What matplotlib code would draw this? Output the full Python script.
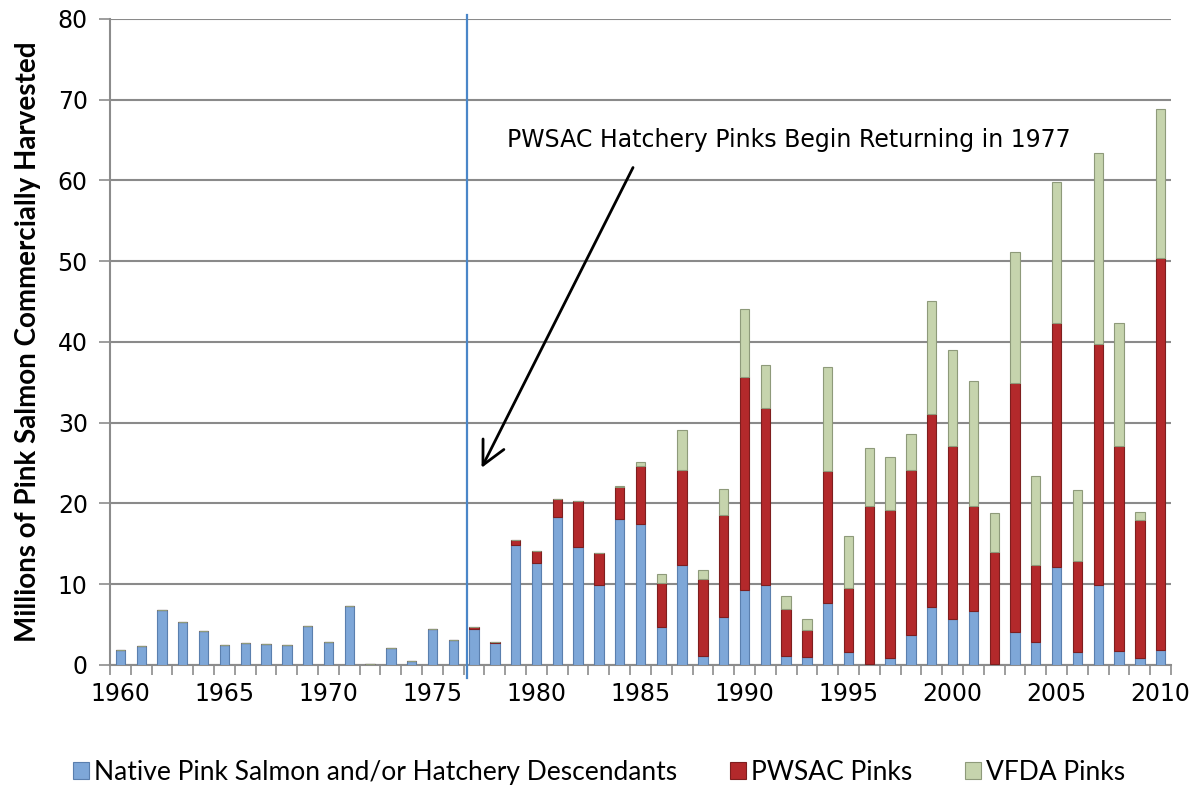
import numpy as np
import matplotlib
matplotlib.use('Agg')
from matplotlib import pyplot as plt

# harvest by year, millions of fish
years = np.arange(1960, 2011)
native = [1.9, 2.4, 6.85, 5.3, 4.2, 2.45, 2.75, 2.6, 2.5, 4.8,
          2.85, 7.35, 0.1, 2.1, 0.45, 4.5, 3.1, 4.5, 2.75, 14.9,
          12.6, 18.3, 14.6, 9.9, 18.1, 17.5, 4.65, 12.35, 1.15, 5.9,
          9.25, 9.9, 1.1, 1.0, 7.7, 1.65, 0.1, 0.8, 3.75, 7.2,
          5.75, 6.7, 0.1, 4.1, 2.9, 12.1, 1.65, 9.95, 1.75, 0.8,
          1.9]
pwsac = [0, 0, 0, 0, 0, 0, 0, 0, 0, 0,
         0, 0, 0, 0, 0, 0, 0, 0.15, 0.15, 0.6,
         1.5, 2.3, 5.7, 4.0, 3.9, 7.15, 5.45, 11.75, 9.55, 12.7,
         26.45, 21.9, 5.8, 3.3, 16.3, 7.85, 19.6, 18.4, 20.45, 23.9,
         21.35, 13.0, 13.9, 30.8, 9.5, 30.3, 11.25, 29.85, 25.35, 17.2,
         48.5]
vfda = [0, 0, 0, 0, 0, 0, 0, 0, 0, 0,
        0, 0, 0, 0, 0, 0, 0, 0, 0, 0,
        0, 0, 0, 0, 0.1, 0.45, 1.2, 5.0, 1.1, 3.2,
        8.4, 5.3, 1.7, 1.45, 12.9, 6.5, 7.2, 6.6, 4.4, 14.0,
        11.9, 15.5, 4.8, 16.2, 11.0, 17.4, 8.8, 23.6, 15.2, 0.9,
        18.5]
labels = ['Native Pink Salmon and/or Hatchery Descendants', 'PWSAC Pinks', 'VFDA Pinks']

native = np.array(native)
pwsac = np.array(pwsac)
vfda = np.array(vfda)

fig = plt.figure(figsize=(11.98, 7.86), dpi=100)
ax = fig.add_axes([0.0918, 0.154, 0.8857, 0.822])

w = 0.45
ax.bar(years, native, w, color='#7ea7d8', edgecolor='#5a7fae', lw=0.8, label=labels[0], zorder=3)
ax.bar(years, pwsac, w, bottom=native, color='#b3292b', edgecolor='#7e1e1e', lw=0.8, label=labels[1], zorder=3)
ax.bar(years, vfda, w, bottom=native + pwsac, color='#c6d4ad', edgecolor='#8e9a7a', lw=0.8, label=labels[2], zorder=3)

ax.set_xlim(1959.5, 2010.5)
ax.set_ylim(0, 80)
ax.set_yticks(np.arange(0, 81, 10))
ax.set_xticks(np.arange(1960, 2011, 5))
ax.set_xticks(np.arange(1959.5, 2011, 1), minor=True)
ax.tick_params(axis='x', which='major', length=0, pad=12, labelsize=17)
ax.tick_params(axis='x', which='minor', length=7, width=1.2, color='#8c8c8c', direction='out')
ax.tick_params(axis='y', length=8, width=1.2, color='#8c8c8c', pad=8, labelsize=17)
ax.grid(axis='y', color='#8a8a8a', lw=1.5, zorder=0)
for s in ['top', 'right']:
    ax.spines[s].set_visible(False)
for s in ['left', 'bottom']:
    ax.spines[s].set_color('#8c8c8c')
    ax.spines[s].set_linewidth(1.5)

ax.set_ylabel('Millions of Pink Salmon Commercially Harvested', fontsize=20,
              fontweight='bold', family='Lato', labelpad=12)

# hatchery start line
ax.plot([1976.64, 1976.64], [-0.02, 1.006], color='#4a86c8', lw=1.6,
        transform=ax.get_xaxis_transform(), clip_on=False, zorder=4)

ax.text(1992.15, 65.0, 'PWSAC Hatchery Pinks Begin Returning in 1977',
        fontsize=17, ha='center', va='center', zorder=5)
ax.annotate('', xy=(1977.3, 24.1), xytext=(1984.7, 61.9),
            arrowprops=dict(arrowstyle='->', lw=2, color='black', mutation_scale=42),
            zorder=5)

fig.legend(loc='center', bbox_to_anchor=(0.5, 0.017), ncol=3, frameon=False,
           handlelength=0.6, handleheight=0.6, handletextpad=0.2, columnspacing=2.0,
           prop={'family': 'Lato', 'size': 19})

fig.savefig('out.png', dpi=100)
